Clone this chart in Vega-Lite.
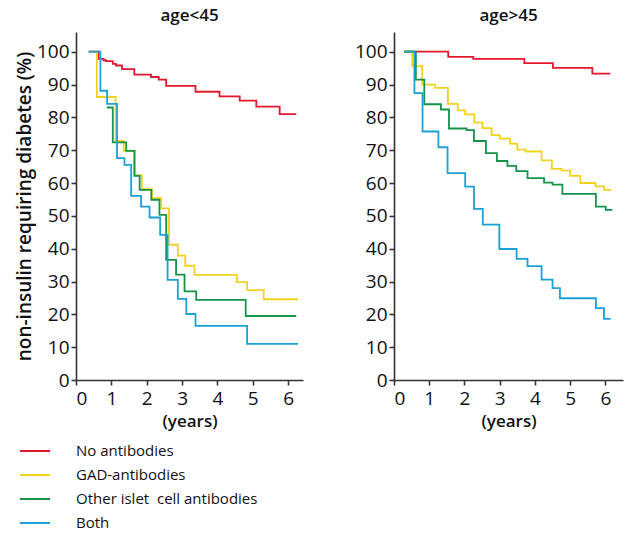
{
  "$schema": "https://vega.github.io/schema/vega-lite/v6.json",
  "background": "white",
  "padding": {"left": 15, "top": 7, "right": 5, "bottom": 5},
  "datasets": {
    "km": [
      {"panel": "age<45", "group": "No antibodies", "t": 0.36, "s": 100},
      {"panel": "age<45", "group": "No antibodies", "t": 0.64, "s": 97.8},
      {"panel": "age<45", "group": "No antibodies", "t": 0.78, "s": 97.4},
      {"panel": "age<45", "group": "No antibodies", "t": 0.85, "s": 97.1},
      {"panel": "age<45", "group": "No antibodies", "t": 1.04, "s": 96.3},
      {"panel": "age<45", "group": "No antibodies", "t": 1.13, "s": 95.8},
      {"panel": "age<45", "group": "No antibodies", "t": 1.30, "s": 94.7},
      {"panel": "age<45", "group": "No antibodies", "t": 1.65, "s": 93.0},
      {"panel": "age<45", "group": "No antibodies", "t": 2.12, "s": 92.3},
      {"panel": "age<45", "group": "No antibodies", "t": 2.34, "s": 91.5},
      {"panel": "age<45", "group": "No antibodies", "t": 2.55, "s": 89.6},
      {"panel": "age<45", "group": "No antibodies", "t": 3.38, "s": 87.8},
      {"panel": "age<45", "group": "No antibodies", "t": 4.06, "s": 86.4},
      {"panel": "age<45", "group": "No antibodies", "t": 4.63, "s": 85.1},
      {"panel": "age<45", "group": "No antibodies", "t": 5.10, "s": 83.3},
      {"panel": "age<45", "group": "No antibodies", "t": 5.76, "s": 81.0},
      {"panel": "age<45", "group": "No antibodies", "t": 6.23, "s": 81.0},

      {"panel": "age<45", "group": "GAD-antibodies", "t": 0.36, "s": 100},
      {"panel": "age<45", "group": "GAD-antibodies", "t": 0.59, "s": 86.2},
      {"panel": "age<45", "group": "GAD-antibodies", "t": 1.12, "s": 72.8},
      {"panel": "age<45", "group": "GAD-antibodies", "t": 1.35, "s": 69.8},
      {"panel": "age<45", "group": "GAD-antibodies", "t": 1.67, "s": 62.4},
      {"panel": "age<45", "group": "GAD-antibodies", "t": 1.86, "s": 58.1},
      {"panel": "age<45", "group": "GAD-antibodies", "t": 2.15, "s": 55.4},
      {"panel": "age<45", "group": "GAD-antibodies", "t": 2.41, "s": 52.3},
      {"panel": "age<45", "group": "GAD-antibodies", "t": 2.63, "s": 41.2},
      {"panel": "age<45", "group": "GAD-antibodies", "t": 2.88, "s": 37.9},
      {"panel": "age<45", "group": "GAD-antibodies", "t": 3.09, "s": 34.8},
      {"panel": "age<45", "group": "GAD-antibodies", "t": 3.35, "s": 32.0},
      {"panel": "age<45", "group": "GAD-antibodies", "t": 4.55, "s": 29.8},
      {"panel": "age<45", "group": "GAD-antibodies", "t": 4.84, "s": 27.4},
      {"panel": "age<45", "group": "GAD-antibodies", "t": 5.31, "s": 24.6},
      {"panel": "age<45", "group": "GAD-antibodies", "t": 6.28, "s": 24.6},

      {"panel": "age<45", "group": "Other islet\u00a0 cell antibodies", "t": 0.87, "s": 83.0},
      {"panel": "age<45", "group": "Other islet\u00a0 cell antibodies", "t": 1.04, "s": 72.4},
      {"panel": "age<45", "group": "Other islet\u00a0 cell antibodies", "t": 1.42, "s": 69.8},
      {"panel": "age<45", "group": "Other islet\u00a0 cell antibodies", "t": 1.65, "s": 62.2},
      {"panel": "age<45", "group": "Other islet\u00a0 cell antibodies", "t": 1.80, "s": 57.9},
      {"panel": "age<45", "group": "Other islet\u00a0 cell antibodies", "t": 2.13, "s": 54.9},
      {"panel": "age<45", "group": "Other islet\u00a0 cell antibodies", "t": 2.36, "s": 50.3},
      {"panel": "age<45", "group": "Other islet\u00a0 cell antibodies", "t": 2.55, "s": 36.6},
      {"panel": "age<45", "group": "Other islet\u00a0 cell antibodies", "t": 2.83, "s": 32.1},
      {"panel": "age<45", "group": "Other islet\u00a0 cell antibodies", "t": 3.07, "s": 27.0},
      {"panel": "age<45", "group": "Other islet\u00a0 cell antibodies", "t": 3.40, "s": 24.4},
      {"panel": "age<45", "group": "Other islet\u00a0 cell antibodies", "t": 4.80, "s": 19.5},
      {"panel": "age<45", "group": "Other islet\u00a0 cell antibodies", "t": 6.23, "s": 19.5},

      {"panel": "age<45", "group": "Both", "t": 0.36, "s": 100},
      {"panel": "age<45", "group": "Both", "t": 0.69, "s": 88.1},
      {"panel": "age<45", "group": "Both", "t": 0.88, "s": 84.1},
      {"panel": "age<45", "group": "Both", "t": 1.16, "s": 67.6},
      {"panel": "age<45", "group": "Both", "t": 1.37, "s": 65.5},
      {"panel": "age<45", "group": "Both", "t": 1.56, "s": 56.1},
      {"panel": "age<45", "group": "Both", "t": 1.84, "s": 52.8},
      {"panel": "age<45", "group": "Both", "t": 2.08, "s": 49.5},
      {"panel": "age<45", "group": "Both", "t": 2.38, "s": 44.2},
      {"panel": "age<45", "group": "Both", "t": 2.59, "s": 30.5},
      {"panel": "age<45", "group": "Both", "t": 2.88, "s": 24.7},
      {"panel": "age<45", "group": "Both", "t": 3.12, "s": 20.1},
      {"panel": "age<45", "group": "Both", "t": 3.38, "s": 16.5},
      {"panel": "age<45", "group": "Both", "t": 4.84, "s": 11.0},
      {"panel": "age<45", "group": "Both", "t": 6.28, "s": 11.0},

      {"panel": "age>45", "group": "No antibodies", "t": 0.29, "s": 100},
      {"panel": "age>45", "group": "No antibodies", "t": 1.54, "s": 98.4},
      {"panel": "age>45", "group": "No antibodies", "t": 2.25, "s": 97.8},
      {"panel": "age>45", "group": "No antibodies", "t": 3.70, "s": 96.5},
      {"panel": "age>45", "group": "No antibodies", "t": 4.51, "s": 95.1},
      {"panel": "age>45", "group": "No antibodies", "t": 5.63, "s": 93.3},
      {"panel": "age>45", "group": "No antibodies", "t": 6.14, "s": 93.3},

      {"panel": "age>45", "group": "GAD-antibodies", "t": 0.29, "s": 100},
      {"panel": "age>45", "group": "GAD-antibodies", "t": 0.52, "s": 95.6},
      {"panel": "age>45", "group": "GAD-antibodies", "t": 0.80, "s": 90.0},
      {"panel": "age>45", "group": "GAD-antibodies", "t": 1.16, "s": 89.0},
      {"panel": "age>45", "group": "GAD-antibodies", "t": 1.53, "s": 84.1},
      {"panel": "age>45", "group": "GAD-antibodies", "t": 1.81, "s": 82.1},
      {"panel": "age>45", "group": "GAD-antibodies", "t": 2.02, "s": 80.9},
      {"panel": "age>45", "group": "GAD-antibodies", "t": 2.28, "s": 78.4},
      {"panel": "age>45", "group": "GAD-antibodies", "t": 2.51, "s": 76.7},
      {"panel": "age>45", "group": "GAD-antibodies", "t": 2.77, "s": 74.6},
      {"panel": "age>45", "group": "GAD-antibodies", "t": 3.00, "s": 73.5},
      {"panel": "age>45", "group": "GAD-antibodies", "t": 3.29, "s": 72.0},
      {"panel": "age>45", "group": "GAD-antibodies", "t": 3.50, "s": 70.2},
      {"panel": "age>45", "group": "GAD-antibodies", "t": 3.74, "s": 69.6},
      {"panel": "age>45", "group": "GAD-antibodies", "t": 4.19, "s": 66.9},
      {"panel": "age>45", "group": "GAD-antibodies", "t": 4.48, "s": 64.3},
      {"panel": "age>45", "group": "GAD-antibodies", "t": 4.76, "s": 63.8},
      {"panel": "age>45", "group": "GAD-antibodies", "t": 5.00, "s": 62.2},
      {"panel": "age>45", "group": "GAD-antibodies", "t": 5.29, "s": 60.0},
      {"panel": "age>45", "group": "GAD-antibodies", "t": 5.72, "s": 59.0},
      {"panel": "age>45", "group": "GAD-antibodies", "t": 5.96, "s": 57.9},
      {"panel": "age>45", "group": "GAD-antibodies", "t": 6.17, "s": 57.9},

      {"panel": "age>45", "group": "Other islet\u00a0 cell antibodies", "t": 0.29, "s": 100},
      {"panel": "age>45", "group": "Other islet\u00a0 cell antibodies", "t": 0.62, "s": 91.5},
      {"panel": "age>45", "group": "Other islet\u00a0 cell antibodies", "t": 0.86, "s": 84.0},
      {"panel": "age>45", "group": "Other islet\u00a0 cell antibodies", "t": 1.33, "s": 82.4},
      {"panel": "age>45", "group": "Other islet\u00a0 cell antibodies", "t": 1.56, "s": 76.6},
      {"panel": "age>45", "group": "Other islet\u00a0 cell antibodies", "t": 2.06, "s": 76.1},
      {"panel": "age>45", "group": "Other islet\u00a0 cell antibodies", "t": 2.27, "s": 72.8},
      {"panel": "age>45", "group": "Other islet\u00a0 cell antibodies", "t": 2.61, "s": 69.1},
      {"panel": "age>45", "group": "Other islet\u00a0 cell antibodies", "t": 2.92, "s": 66.7},
      {"panel": "age>45", "group": "Other islet\u00a0 cell antibodies", "t": 3.22, "s": 65.2},
      {"panel": "age>45", "group": "Other islet\u00a0 cell antibodies", "t": 3.47, "s": 63.6},
      {"panel": "age>45", "group": "Other islet\u00a0 cell antibodies", "t": 3.79, "s": 61.5},
      {"panel": "age>45", "group": "Other islet\u00a0 cell antibodies", "t": 4.26, "s": 60.1},
      {"panel": "age>45", "group": "Other islet\u00a0 cell antibodies", "t": 4.50, "s": 59.5},
      {"panel": "age>45", "group": "Other islet\u00a0 cell antibodies", "t": 4.78, "s": 56.7},
      {"panel": "age>45", "group": "Other islet\u00a0 cell antibodies", "t": 5.73, "s": 52.8},
      {"panel": "age>45", "group": "Other islet\u00a0 cell antibodies", "t": 6.01, "s": 51.8},
      {"panel": "age>45", "group": "Other islet\u00a0 cell antibodies", "t": 6.20, "s": 51.8},

      {"panel": "age>45", "group": "Both", "t": 0.29, "s": 100},
      {"panel": "age>45", "group": "Both", "t": 0.58, "s": 87.4},
      {"panel": "age>45", "group": "Both", "t": 0.81, "s": 75.7},
      {"panel": "age>45", "group": "Both", "t": 1.26, "s": 70.9},
      {"panel": "age>45", "group": "Both", "t": 1.52, "s": 63.0},
      {"panel": "age>45", "group": "Both", "t": 2.02, "s": 58.9},
      {"panel": "age>45", "group": "Both", "t": 2.27, "s": 52.1},
      {"panel": "age>45", "group": "Both", "t": 2.52, "s": 47.3},
      {"panel": "age>45", "group": "Both", "t": 2.99, "s": 39.9},
      {"panel": "age>45", "group": "Both", "t": 3.48, "s": 36.9},
      {"panel": "age>45", "group": "Both", "t": 3.79, "s": 34.7},
      {"panel": "age>45", "group": "Both", "t": 4.19, "s": 30.6},
      {"panel": "age>45", "group": "Both", "t": 4.50, "s": 28.0},
      {"panel": "age>45", "group": "Both", "t": 4.71, "s": 24.9},
      {"panel": "age>45", "group": "Both", "t": 5.73, "s": 21.9},
      {"panel": "age>45", "group": "Both", "t": 5.96, "s": 18.6},
      {"panel": "age>45", "group": "Both", "t": 6.15, "s": 18.6}
    ]
  },
  "config": {
    "view": {"stroke": null},
    "font": "Open Sans",
    "axis": {
      "grid": false,
      "domainColor": "#333333",
      "tickColor": "#333333",
      "domainWidth": 1.6,
      "tickWidth": 1.6,
      "tickSize": 5,
      "labelFont": "Open Sans",
      "labelFontSize": 19,
      "labelColor": "#111111",
      "labelPadding": 2,
      "titleFont": "Open Sans",
      "titleFontSize": 17,
      "titleFontWeight": 600,
      "titleColor": "#111111"
    },
    "title": {"font": "Open Sans", "fontSize": 17, "fontWeight": 600, "color": "#111111", "offset": 7}
  },
  "resolve": {"scale": {"x": "independent", "y": "independent", "color": "shared"}, "legend": {"color": "shared"}},
  "spacing": 51,
  "hconcat": [
    {
      "data": {"name": "km"},
      "width": 227,
      "height": 348,
      "title": "age<45",
      "transform": [{"filter": "datum.panel == 'age<45'"}],
      "mark": {"type": "line", "interpolate": "step-after", "strokeWidth": 1.8},
      "encoding": {
        "x": {"field": "t", "type": "quantitative", "scale": {"domain": [0, 6.42], "nice": false, "zero": false}, "axis": {"values": [0, 1, 2, 3, 4, 5, 6], "title": "(years)", "titlePadding": 5, "labelPadding": 4}},
        "y": {"field": "s", "type": "quantitative", "scale": {"domain": [0, 106], "nice": false}, "axis": {"values": [0, 10, 20, 30, 40, 50, 60, 70, 80, 90, 100], "title": "non-insulin requiring diabetes (%)", "titleFontSize": 19, "titlePadding": 2}},
        "color": {
          "field": "group", "type": "nominal",
          "scale": {"domain": ["No antibodies", "GAD-antibodies", "Other islet\u00a0 cell antibodies", "Both"], "range": ["#e3172e", "#f3d21c", "#149349", "#1ba0d7"]},
          "legend": {"orient": "none", "legendX": -57, "legendY": 403, "title": null, "symbolType": "stroke", "symbolSize": 900, "symbolStrokeWidth": 2, "labelFont": "Open Sans", "labelFontSize": 15, "labelColor": "#111111", "labelOffset": 25, "labelLimit": 0, "rowPadding": -4.5}
        }
      }
    },
    {
      "data": {"name": "km"},
      "width": 229,
      "height": 348,
      "title": "age>45",
      "transform": [{"filter": "datum.panel == 'age>45'"}],
      "mark": {"type": "line", "interpolate": "step-after", "strokeWidth": 1.8},
      "encoding": {
        "x": {"field": "t", "type": "quantitative", "scale": {"domain": [0, 6.5], "nice": false, "zero": false}, "axis": {"values": [0, 1, 2, 3, 4, 5, 6], "title": "(years)", "titlePadding": 5, "labelPadding": 4}},
        "y": {"field": "s", "type": "quantitative", "scale": {"domain": [0, 106], "nice": false}, "axis": {"values": [0, 10, 20, 30, 40, 50, 60, 70, 80, 90, 100], "title": null}},
        "color": {"field": "group", "type": "nominal"}
      }
    }
  ]
}
